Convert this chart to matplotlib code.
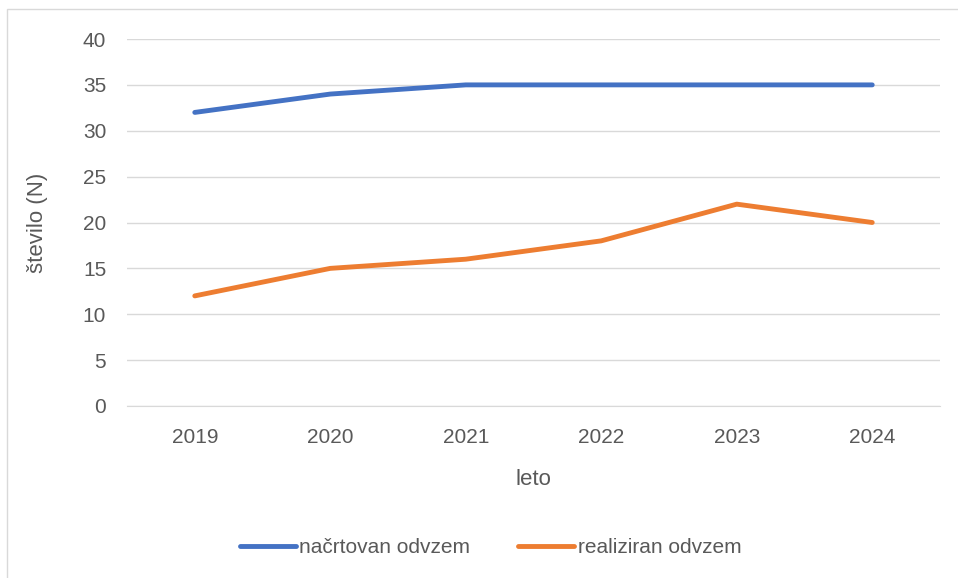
import matplotlib.pyplot as plt
from matplotlib.patches import Rectangle

# --- data ---
years = ['2019', '2020', '2021', '2022', '2023', '2024']
planned = [32, 34, 35, 35, 35, 35]
realized = [12, 15, 16, 18, 22, 20]

plt.rcParams['font.family'] = ['Liberation Sans', 'DejaVu Sans']
text_col = '#595959'

fig = plt.figure(figsize=(9.58, 5.78), dpi=100)
ax = fig.add_axes([0.1326, 0.2976, 0.8486, 0.6349])

x = list(range(len(years)))
ax.plot(x, planned, color='#4472C4', lw=3.5, solid_capstyle='round', label='načrtovan odvzem')
ax.plot(x, realized, color='#ED7D31', lw=3.5, solid_capstyle='round', label='realiziran odvzem')

ax.set_xlim(-0.5, len(years) - 0.5)
ax.set_ylim(0, 40)
ax.set_yticks(range(0, 41, 5))
ax.set_xticks(x)
ax.set_xticklabels(years)
ax.yaxis.grid(True, color='#D9D9D9', lw=1)
ax.set_axisbelow(True)
for s in ['top', 'right', 'left']:
    ax.spines[s].set_visible(False)
ax.spines['bottom'].set_color('#D9D9D9')
ax.tick_params(length=0, labelsize=15, colors=text_col)
ax.tick_params(axis='x', pad=16)
ax.tick_params(axis='y', pad=15)

ax.set_xlabel('leto', fontsize=16, color=text_col, labelpad=16)
ax.set_ylabel('število (N)', fontsize=16, color=text_col, labelpad=25)

leg = fig.legend(loc='center', bbox_to_anchor=(0.512, 0.052), ncol=2, frameon=False,
                 fontsize=15, handlelength=2.7, handletextpad=0.15, columnspacing=2.3)
for t in leg.get_texts():
    t.set_color(text_col)

# chart frame
fig.patches.append(Rectangle((7 / 958, -0.1), 1.2, (578 - 9) / 578 + 0.1,
                             transform=fig.transFigure, fill=False,
                             edgecolor='#D9D9D9', lw=1))

fig.savefig('out.png', dpi=100)
